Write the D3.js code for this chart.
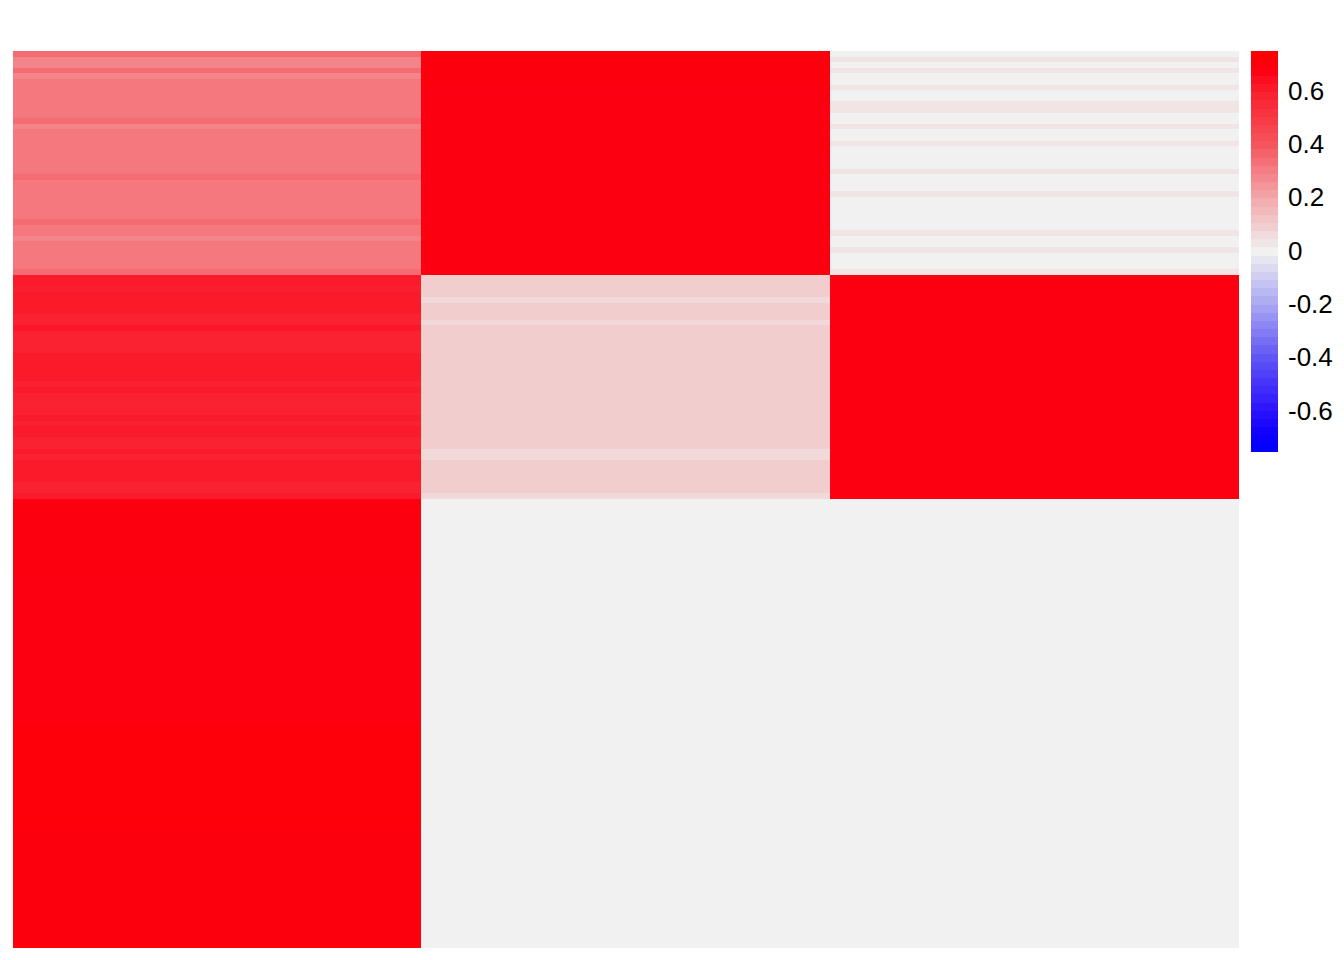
<!DOCTYPE html>
<html>
<head>
<meta charset="utf-8">
<script src="https://cdn.jsdelivr.net/npm/d3@7"></script>
<style>
  html, body { margin: 0; padding: 0; background: #ffffff; }
  svg { display: block; }
</style>
</head>
<body>
<svg id="chart" width="1344" height="960"></svg>
<script>
// ---- data ----
const columns = ["C1", "C2", "C3"];

const col1Values = [
  // block 1 (rows 1-40)
  0.345, 0.285, 0.285, 0.345, 0.285, 0.315, 0.315, 0.315, 0.315, 0.315,
  0.315, 0.315, 0.345, 0.285, 0.315, 0.315, 0.315, 0.315, 0.315, 0.315,
  0.315, 0.315, 0.345, 0.315, 0.315, 0.315, 0.315, 0.315, 0.315, 0.315,
  0.345, 0.315, 0.315, 0.285, 0.315, 0.315, 0.315, 0.315, 0.315, 0.345,
  // block 2 (rows 41-80)
  0.61, 0.61, 0.595, 0.61, 0.61, 0.61, 0.61, 0.585, 0.585, 0.615,
  0.585, 0.585, 0.585, 0.585, 0.61, 0.61, 0.61, 0.61, 0.61, 0.585,
  0.61, 0.585, 0.585, 0.585, 0.585, 0.61, 0.585, 0.61, 0.61, 0.585,
  0.585, 0.61, 0.585, 0.61, 0.61, 0.61, 0.61, 0.585, 0.585, 0.61,
  // block 3 (rows 81-160)
  0.69, 0.69, 0.69, 0.69, 0.69, 0.69, 0.69, 0.69, 0.69, 0.69,
  0.69, 0.69, 0.69, 0.685, 0.685, 0.685, 0.685, 0.685, 0.685, 0.685,
  0.685, 0.685, 0.685, 0.685, 0.685, 0.685, 0.68, 0.68, 0.68, 0.68,
  0.68, 0.68, 0.68, 0.68, 0.68, 0.68, 0.68, 0.68, 0.68, 0.68,
  0.71, 0.71, 0.71, 0.71, 0.71, 0.71, 0.71, 0.71, 0.71, 0.71,
  0.71, 0.71, 0.71, 0.71, 0.71, 0.71, 0.71, 0.71, 0.71, 0.70,
  0.70, 0.70, 0.70, 0.70, 0.70, 0.70, 0.70, 0.70, 0.70, 0.70,
  0.70, 0.70, 0.70, 0.70, 0.70, 0.70, 0.70, 0.70, 0.70, 0.70
];

const col2Values = [
  // block 1
  0.70, 0.70, 0.70, 0.70, 0.70, 0.70, 0.685, 0.685, 0.685, 0.685,
  0.685, 0.685, 0.685, 0.685, 0.685, 0.685, 0.685, 0.685, 0.685, 0.685,
  0.685, 0.685, 0.685, 0.685, 0.685, 0.685, 0.685, 0.685, 0.685, 0.685,
  0.685, 0.685, 0.685, 0.685, 0.685, 0.685, 0.685, 0.685, 0.685, 0.685,
  // block 2
  0.10, 0.10, 0.10, 0.10, 0.065, 0.10, 0.10, 0.10, 0.065, 0.10,
  0.10, 0.10, 0.10, 0.10, 0.10, 0.10, 0.10, 0.10, 0.10, 0.10,
  0.10, 0.10, 0.10, 0.10, 0.10, 0.10, 0.10, 0.10, 0.10, 0.10,
  0.10, 0.065, 0.065, 0.10, 0.10, 0.10, 0.10, 0.10, 0.10, 0.065,
  // block 3
  0, 0, 0, 0, 0, 0, 0, 0, 0, 0,
  0, 0, 0, 0, 0, 0, 0, 0, 0, 0,
  0, 0, 0, 0, 0, 0, 0, 0, 0, 0,
  0, 0, 0, 0, 0, 0, 0, 0, 0, 0,
  0, 0, 0, 0, 0, 0, 0, 0, 0, 0,
  0, 0, 0, 0, 0, 0, 0, 0, 0, 0,
  0, 0, 0, 0, 0, 0, 0, 0, 0, 0,
  0, 0, 0, 0, 0, 0, 0, 0, 0, 0
];

const col3Values = [
  // block 1
  0, 0.035, 0, 0.035, 0, 0, 0.035, 0, 0, 0.035,
  0.035, 0, 0, 0.035, 0, 0, 0.035, 0, 0, 0,
  0, 0.035, 0, 0, 0, 0.035, 0, 0, 0, 0,
  0, 0, 0.035, 0, 0, 0.035, 0, 0, 0, 0.035,
  // block 2
  0.685, 0.685, 0.685, 0.685, 0.685, 0.685, 0.685, 0.685, 0.685, 0.685,
  0.685, 0.685, 0.685, 0.685, 0.685, 0.685, 0.685, 0.685, 0.685, 0.685,
  0.685, 0.685, 0.685, 0.685, 0.685, 0.685, 0.685, 0.685, 0.685, 0.685,
  0.685, 0.685, 0.685, 0.685, 0.685, 0.685, 0.685, 0.685, 0.685, 0.685,
  // block 3
  0, 0, 0, 0, 0, 0, 0, 0, 0, 0,
  0, 0, 0, 0, 0, 0, 0, 0, 0, 0,
  0, 0, 0, 0, 0, 0, 0, 0, 0, 0,
  0, 0, 0, 0, 0, 0, 0, 0, 0, 0,
  0, 0, 0, 0, 0, 0, 0, 0, 0, 0,
  0, 0, 0, 0, 0, 0, 0, 0, 0, 0,
  0, 0, 0, 0, 0, 0, 0, 0, 0, 0,
  0, 0, 0, 0, 0, 0, 0, 0, 0, 0
];

const colorStops  = [-0.75, -0.68, -0.6, -0.4, -0.2, 0, 0.2, 0.4, 0.6, 0.68, 0.75];
const colorValues = ["#0000FF", "#1000FF", "#2A10FE", "#5F55F5", "#A9A6F2", "#F1F1F1",
                     "#F2A8AB", "#F5555D", "#FA1E2D", "#FC0012", "#FF0000"];
const legendTicks = [-0.6, -0.4, -0.2, 0, 0.2, 0.4, 0.6];
const legendDomain = [-0.75, 0.75];
const legendSteps = 49;

// ---- build ----
const allCols = [col1Values, col2Values, col3Values];
const nRows = col1Values.length;
const rowIds = d3.range(nRows);

const cells = [];
allCols.forEach((vals, ci) => {
  vals.forEach((v, ri) => cells.push({ col: columns[ci], row: ri, value: v }));
});

const color = d3.scaleLinear()
  .domain(colorStops)
  .range(colorValues)
  .interpolate(d3.interpolateRgb)
  .clamp(true);

const svg = d3.select("#chart");

const x = d3.scaleBand().domain(columns).range([13, 1238]).padding(0);
const y = d3.scaleBand().domain(rowIds).range([51, 947]).padding(0);

svg.append("g")
  .attr("shape-rendering", "crispEdges")
  .selectAll("rect")
  .data(cells)
  .join("rect")
  .attr("x", d => x(d.col))
  .attr("y", d => y(d.row))
  .attr("width", x.bandwidth() + 0.5)
  .attr("height", y.bandwidth() + 0.5)
  .attr("fill", d => color(d.value));

// ---- legend ----
const ly = d3.scaleLinear().domain(legendDomain).range([451, 51]);
const stepSize = (legendDomain[1] - legendDomain[0]) / legendSteps;
const steps = d3.range(legendSteps).map(i => legendDomain[0] + i * stepSize);

const legend = svg.append("g");
legend.append("g")
  .attr("shape-rendering", "crispEdges")
  .selectAll("rect")
  .data(steps)
  .join("rect")
  .attr("x", 1251)
  .attr("width", 27)
  .attr("y", d => ly(d + stepSize))
  .attr("height", d => ly(d) - ly(d + stepSize) + 0.5)
  .attr("fill", d => color(d + stepSize / 2));

const axis = d3.axisRight(ly)
  .tickValues(legendTicks)
  .tickSize(0)
  .tickPadding(0)
  .tickFormat(d => String(d));

const axG = legend.append("g")
  .attr("transform", "translate(1288,0)")
  .call(axis);
axG.select(".domain").remove();
axG.selectAll("text")
  .attr("font-family", "'Liberation Sans', Arial, sans-serif")
  .attr("font-size", 26)
  .attr("fill", "#000");
</script>
</body>
</html>
